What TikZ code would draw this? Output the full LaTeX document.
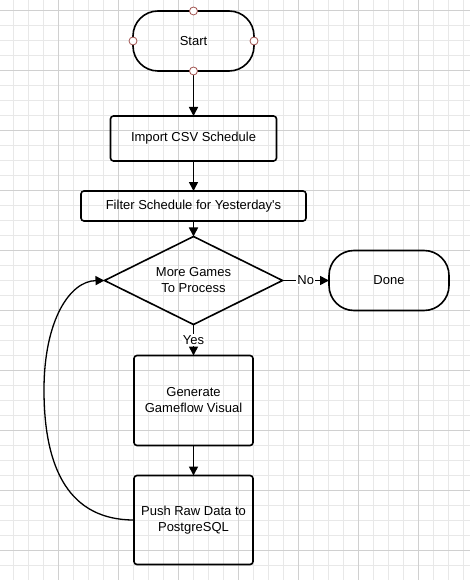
\documentclass[tikz,border=0pt]{standalone}
\usepackage{fontspec}
\setmainfont{Liberation Sans}[Ligatures=TeXOff]
\usetikzlibrary{positioning,shapes.geometric,arrows.meta}
\definecolor{gridminor}{HTML}{E8E8E8}
\definecolor{gridmajor}{HTML}{D0D0D0}
\definecolor{handlered}{HTML}{A0524F}
\tikzset{
	box/.style={draw, line width=1.6pt, rounded corners=3pt, align=center, inner sep=0pt, outer sep=0pt},
	term/.style={box, rounded corners=25pt},
	decision/.style={draw, diamond, line width=1.6pt, aspect=2, align=center, inner sep=0pt, outer sep=0pt},
	handle/.style={circle, draw=handlered, fill=white, line width=0.8pt, minimum size=8pt, inner sep=0pt},
	arr/.style={line width=1.6pt, -{Triangle[length=9pt,width=9pt]}},
	lbl/.style={fill=white, inner sep=1pt},
	gridline/.style={line width=0.6pt, gridminor},
}

\begin{document}
\begin{tikzpicture}[x=1pt, y=-1pt, font=\fontsize{13}{16}\selectfont]
	\useasboundingbox (0,0) rectangle (470,580);
	\foreach \gx in {0,...,30} \draw[gridline] ({13.33+15*\gx},0) -- ({13.33+15*\gx},580);
	\foreach \gy in {0,...,38} \draw[gridline] (0,{10+15*\gy}) -- (470,{10+15*\gy});
	\foreach \gx in {0,...,6} \draw[gridline, gridmajor] ({58.33+60*\gx},0) -- ({58.33+60*\gx},580);
	\foreach \gy in {0,...,9} \draw[gridline, gridmajor] (0,{10+60*\gy}) -- (470,{10+60*\gy});

	\node[term, minimum width=121pt, minimum height=60pt] (start) at (193.5,41) {Start};
	\node[box, minimum width=166pt, minimum height=45pt, below=45pt of start] (import) {Import CSV Schedule};
	\node[box, minimum width=225pt, minimum height=30pt, below=30pt of import] (filter) {Filter Schedule for Yesterday's};
	\node[decision, minimum width=178pt, minimum height=88pt, below=15.5pt of filter] (decide) {More Games\\To Process};
	\node[term, minimum width=120pt, minimum height=60pt, right=46.5pt of decide] (done) {Done};
	\node[box, minimum width=119pt, minimum height=90pt, below=31pt of decide] (gen) {Generate\\Gameflow Visual};
	\node[box, minimum width=119pt, minimum height=89pt, below=30pt of gen] (push) {Push Raw Data to\\PostgreSQL};

	\draw[arr] (start) -- (import);
	\draw[arr] (import) -- (filter);
	\draw[arr] (filter) -- (decide);
	\draw[arr] (decide) -- node[lbl] {No} (done);
	\draw[arr] (decide) -- node[lbl] {Yes} (gen);
	\draw[arr] (gen) -- (push);
	\draw[arr, line width=1.3pt] (push.west) .. controls (70,520) and (44,470) .. (44,390)
		.. controls (44,320) and (70,281) .. (decide.west);

	\foreach \a in {north,south,east,west}
		\node[handle] (h-\a) at (start.\a) {};
\end{tikzpicture}
\end{document}
